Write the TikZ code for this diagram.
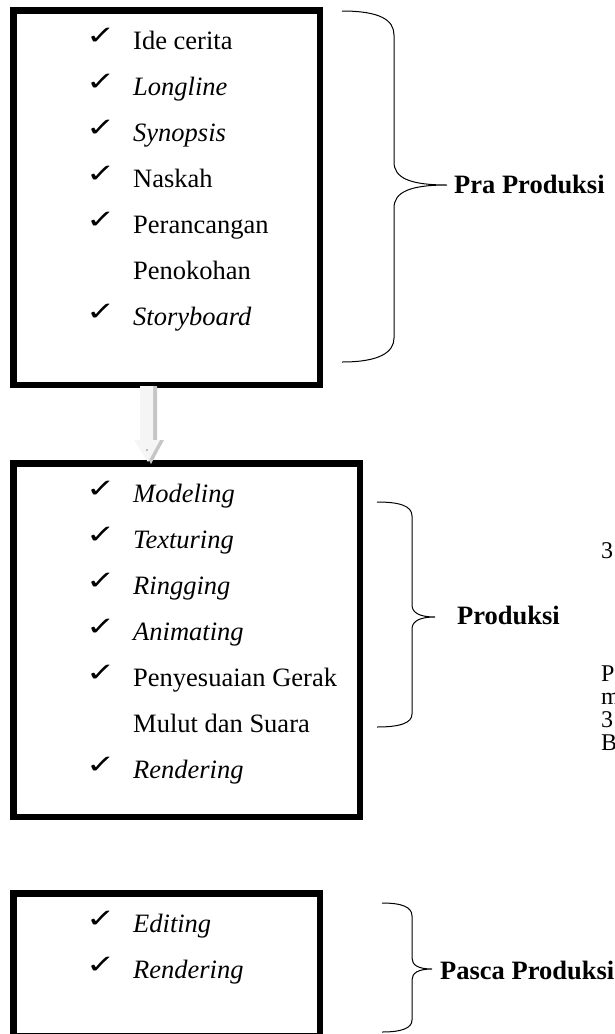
\documentclass[tikz,border=0pt]{standalone}
\usepackage{fontspec}
\setmainfont{Liberation Serif}
\newfontfamily\chkfont{DejaVu Sans}
\newcommand{\mychk}{\scalebox{1.35}[1]{\chkfont\fontsize{26}{28}\selectfont ✓}}
\begin{document}
\begin{tikzpicture}[x=1pt,y=-1pt,
  box/.style={line width=6.5pt,draw=black},
  brace/.style={line width=1pt,draw=black},
  item/.style={anchor=base west,inner sep=0pt,font=\fontsize{26.5}{30}\selectfont},
  chk/.style={anchor=base west,inner sep=0pt},
  lbl/.style={anchor=base west,inner sep=0pt,font=\fontsize{26.5}{30}\selectfont\bfseries},
  frag/.style={anchor=base west,inner sep=0pt,font=\fontsize{24}{26}\selectfont}]
\useasboundingbox (0,0) rectangle (614,1034);
\clip (0,0) rectangle (614,1034);
% boxes
\draw[box] (13.25,10.25) rectangle (319.75,384.75);
\draw[box] (13.25,463.25) rectangle (359.75,816.75);
\draw[box] (13.25,893.25) rectangle (319.75,1036);
% arrow
\fill[gray!45] (144,386) -- (157,386) -- (157,440) -- (164,440) -- (151,464) -- (138,440) -- (144,440) -- cycle;
\fill[gray!8] (140,386) -- (153,386) -- (153,440) -- (160,440) -- (148,462) -- (134,440) -- (140,440) -- cycle;
\fill[black] (147,450) circle (0.7);
% box 1 items
\foreach \t/\y/\c in {Ide cerita/49/1, \textit{Longline}/95/1, \textit{Synopsis}/141/1, Naskah/187/1, Perancangan/233/1, Penokohan/279/0, \textit{Storyboard}/325/1}{
  \node[item] at (133,\y) {\t};
  \ifnum\c=1 \node[chk] at (86,\y-5) {\mychk};\fi
}
% box 2 items
\foreach \t/\y/\c in {\textit{Modeling}/502/1, \textit{Texturing}/548/1, \textit{Ringging}/594/1, \textit{Animating}/640/1, Penyesuaian Gerak/686/1, Mulut dan Suara/732/0, \textit{Rendering}/778/1}{
  \node[item] at (133,\y) {\t};
  \ifnum\c=1 \node[chk] at (86,\y-5) {\mychk};\fi
}
% box 3 items
\foreach \t/\y in {\textit{Editing}/932, \textit{Rendering}/978}{
  \node[item] at (133,\y) {\t};
  \node[chk] at (86,\y-5) {\mychk};
}
% labels
\node[lbl] (pra) at (454,193) {Pra Produksi};
\node[lbl] (pro) at (457,624) {Produksi};
\node[lbl] (pas) at (440,979) {Pasca Produksi};
% braces
\draw[brace] (342,11) .. controls (380,11) and (394,20) .. (394,35) -- (394,162)
  .. controls (394,178) and (410,185) .. (447,185)
  .. controls (410,185) and (394,192) .. (394,208) -- (394,338)
  .. controls (394,352) and (380,362) .. (342,362);
\draw[brace] (377,502) .. controls (400,502) and (412,506) .. (412,516) -- (412,605)
  .. controls (412,613) and (420,617) .. (435,617)
  .. controls (420,617) and (412,621) .. (412,629) -- (412,714)
  .. controls (412,723) and (400,727) .. (377,727);
\draw[brace] (382,903) .. controls (402,903) and (412,907) .. (412,916) -- (412,958)
  .. controls (412,965) and (418,969) .. (432,969)
  .. controls (418,969) and (412,973) .. (412,980) -- (412,1020)
  .. controls (412,1028) and (402,1032) .. (382,1032);
% fragments at right edge
\node[frag] at (601,558) {3};
\node[frag] at (601,681) {P};
\node[frag] at (601,704) {m};
\node[frag] at (601,727) {3};
\node[frag] at (601,750) {B};
\end{tikzpicture}
\end{document}
